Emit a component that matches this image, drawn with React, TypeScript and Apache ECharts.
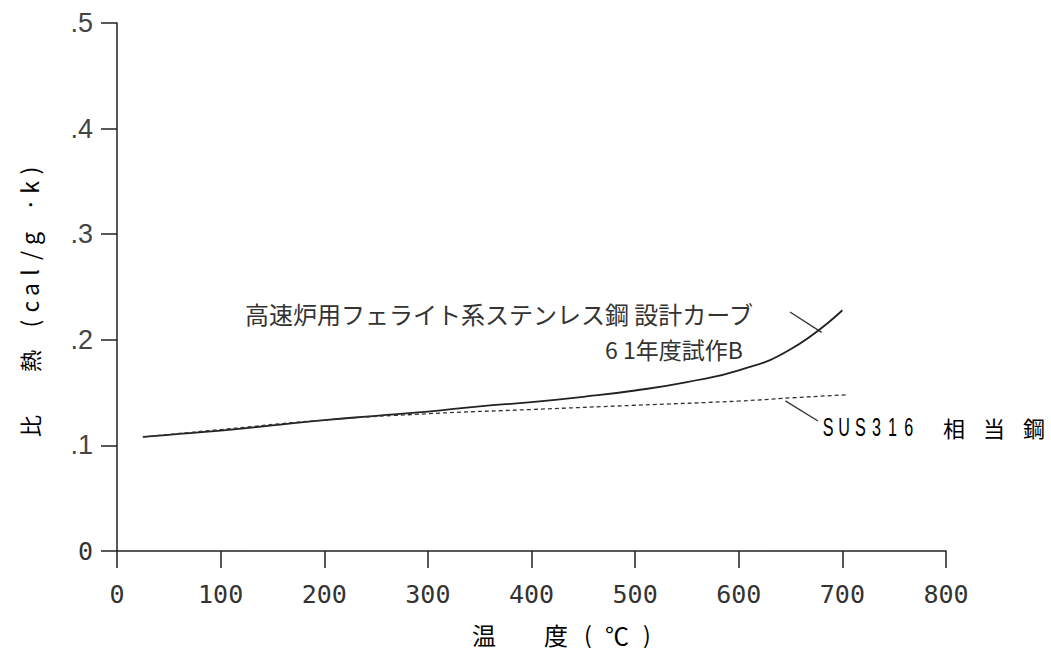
import React, { useEffect, useRef } from "react";
import * as echarts from "echarts";

const temps = [25, 50, 100, 150, 200, 250, 300, 350, 400, 450, 500, 550, 600, 650, 700];
const designCurve = [0.108, 0.110, 0.114, 0.119, 0.124, 0.128, 0.132, 0.137, 0.141, 0.146, 0.152, 0.160, 0.171, 0.191, 0.228];
const sus316Temps = [25, 100, 200, 300, 400, 500, 600, 650, 705];
const sus316 = [0.108, 0.115, 0.124, 0.130, 0.134, 0.138, 0.142, 0.145, 0.148];
const xTicks = [0, 100, 200, 300, 400, 500, 600, 700, 800];
const yTicks = [0, 0.1, 0.2, 0.3, 0.4, 0.5];
const designLabel = "高速炉用フェライト系ステンレス鋼 設計カーブ";
const designSub = "6 1年度試作B";
const susLetters = ["S", "U", "S", "3", "1", "6"];
const susKanji = ["相", "当", "鋼"];
const xTitleKanji = ["温", "度"];
const xTitleUnit = ["(", "℃", ")"];
const yTitleKanji = ["比", "熱"];
const yTitleUnit = ["(", "c", "a", "l", "/", "g", " ", "·", "k", ")"];

const JP = '"Noto Sans CJK JP", sans-serif';
const MONO = '"DejaVu Sans Mono", monospace';
const INK = "#333";

const tok = (name: string, text: string) => "{" + name + "|" + text + "}";

export default function App() {
  const ref = useRef<HTMLDivElement>(null);
  useEffect(() => {
    if (!ref.current) return;
    const chart = echarts.init(ref.current, null, { renderer: "svg" });
    chart.setOption({
      animation: false,
      backgroundColor: "#ffffff",
      grid: { left: 117, right: 105, top: 23, bottom: 99 },
      xAxis: {
        type: "value",
        min: xTicks[0],
        max: xTicks[xTicks.length - 1],
        interval: 100,
        splitLine: { show: false },
        axisLine: { lineStyle: { color: "#222", width: 1.5 } },
        axisTick: { length: 17, lineStyle: { color: "#222", width: 1.5 } },
        axisLabel: { margin: 31, fontFamily: MONO, fontSize: 25, color: INK },
      },
      yAxis: {
        type: "value",
        min: yTicks[0],
        max: yTicks[yTicks.length - 1],
        interval: 0.1,
        splitLine: { show: false },
        axisLine: { onZero: false, lineStyle: { color: "#222", width: 1.5 } },
        axisTick: { length: 16, lineStyle: { color: "#222", width: 1.5 } },
        axisLabel: {
          margin: 24,
          color: INK,
          formatter: (v: number) => (v === 0 ? "{z|0}" : "{n|." + Math.round(v * 10) + "}"),
          rich: {
            z: { fontFamily: MONO, fontSize: 25, color: INK },
            n: { fontFamily: '"Liberation Sans", sans-serif', fontSize: 27, color: "#444" },
          },
        },
      },
      series: [
        {
          type: "line",
          data: temps.map((t, i) => [t, designCurve[i]]),
          smooth: true,
          showSymbol: false,
          lineStyle: { color: "#222", width: 1.8 },
        },
        {
          type: "line",
          data: sus316Temps.map((t, i) => [t, sus316[i]]),
          smooth: true,
          showSymbol: false,
          lineStyle: { color: "#333", width: 1.3, type: [4, 3] },
        },
      ],
    });
    const p1 = chart.convertToPixel({ gridIndex: 0 }, [680, 0.207]) as number[];
    const p2 = chart.convertToPixel({ gridIndex: 0 }, [645, 0.145]) as number[];

    const yTitle =
      tok("k", yTitleKanji[0]) + tok("s1", " ") + tok("k", yTitleKanji[1]) + tok("s2", " ") +
      yTitleUnit.map((c) => tok("u", c)).join("");
    const xTitle =
      tok("k", xTitleKanji[0]) + tok("s1", " ") + tok("k", xTitleKanji[1]) + tok("s2", " ") +
      tok("p", xTitleUnit[0]) + tok("c", xTitleUnit[1]) + tok("q", xTitleUnit[2]);
    const susLetterText = susLetters.map((c) => tok("l", c)).join("");
    const susKanjiText = susKanji
      .map((c, i) => tok("k", c) + (i < susKanji.length - 1 ? tok("s", " ") : ""))
      .join("");

    chart.setOption({
      graphic: [
        {
          type: "text",
          x: 29,
          y: 437,
          rotation: Math.PI / 2,
          style: {
            text: yTitle,
            textAlign: "left",
            textVerticalAlign: "middle",
            rich: {
              k: { fontFamily: JP, fontSize: 22, color: INK, width: 22, align: "center" },
              s1: { width: 43, align: "center" },
              s2: { width: 18, align: "center" },
              u: { fontFamily: JP, fontSize: 23, color: INK, width: 17, align: "center" },
            },
          },
        },
        {
          type: "text",
          x: 470,
          y: 634,
          style: {
            text: xTitle,
            textAlign: "left",
            textVerticalAlign: "middle",
            rich: {
              k: { fontFamily: JP, fontSize: 24, color: INK, width: 28, align: "center" },
              s1: { width: 44, align: "center" },
              s2: { width: 8, align: "center" },
              p: { fontFamily: JP, fontSize: 23, color: INK, width: 20, align: "center" },
              c: { fontFamily: JP, fontSize: 24, color: INK, width: 38, align: "center" },
              q: { fontFamily: JP, fontSize: 23, color: INK, width: 22, align: "center" },
            },
          },
        },
        {
          type: "text",
          x: 245,
          y: 313,
          style: { text: designLabel, fontFamily: JP, fontSize: 24, fill: INK, textVerticalAlign: "middle" },
        },
        {
          type: "line",
          shape: { x1: 790, y1: 312, x2: p1[0], y2: p1[1] },
          style: { stroke: INK, lineWidth: 1.3 },
        },
        {
          type: "text",
          x: 605,
          y: 349,
          style: { text: designSub, fontFamily: JP, fontSize: 23, fill: INK, textVerticalAlign: "middle" },
        },
        {
          type: "line",
          shape: { x1: p2[0], y1: p2[1] + 3, x2: 818, y2: 421 },
          style: { stroke: INK, lineWidth: 1.3 },
        },
        {
          type: "text",
          x: 820,
          y: 427,
          scaleX: 0.62,
          style: {
            text: susLetterText,
            textAlign: "left",
            textVerticalAlign: "middle",
            rich: {
              l: { fontFamily: '"Liberation Sans", sans-serif', fontSize: 26, color: INK, width: 26, align: "center" },
            },
          },
        },
        {
          type: "text",
          x: 943,
          y: 427,
          style: {
            text: susKanjiText,
            textAlign: "left",
            textVerticalAlign: "middle",
            rich: {
              k: { fontFamily: JP, fontSize: 22, color: INK, width: 22, align: "center" },
              s: { width: 18, align: "center" },
            },
          },
        },
      ],
    });
    return () => chart.dispose();
  }, []);
  return <div ref={ref} style={{ position: "fixed", left: 0, top: 0, width: 1051, height: 650 }} />;
}
